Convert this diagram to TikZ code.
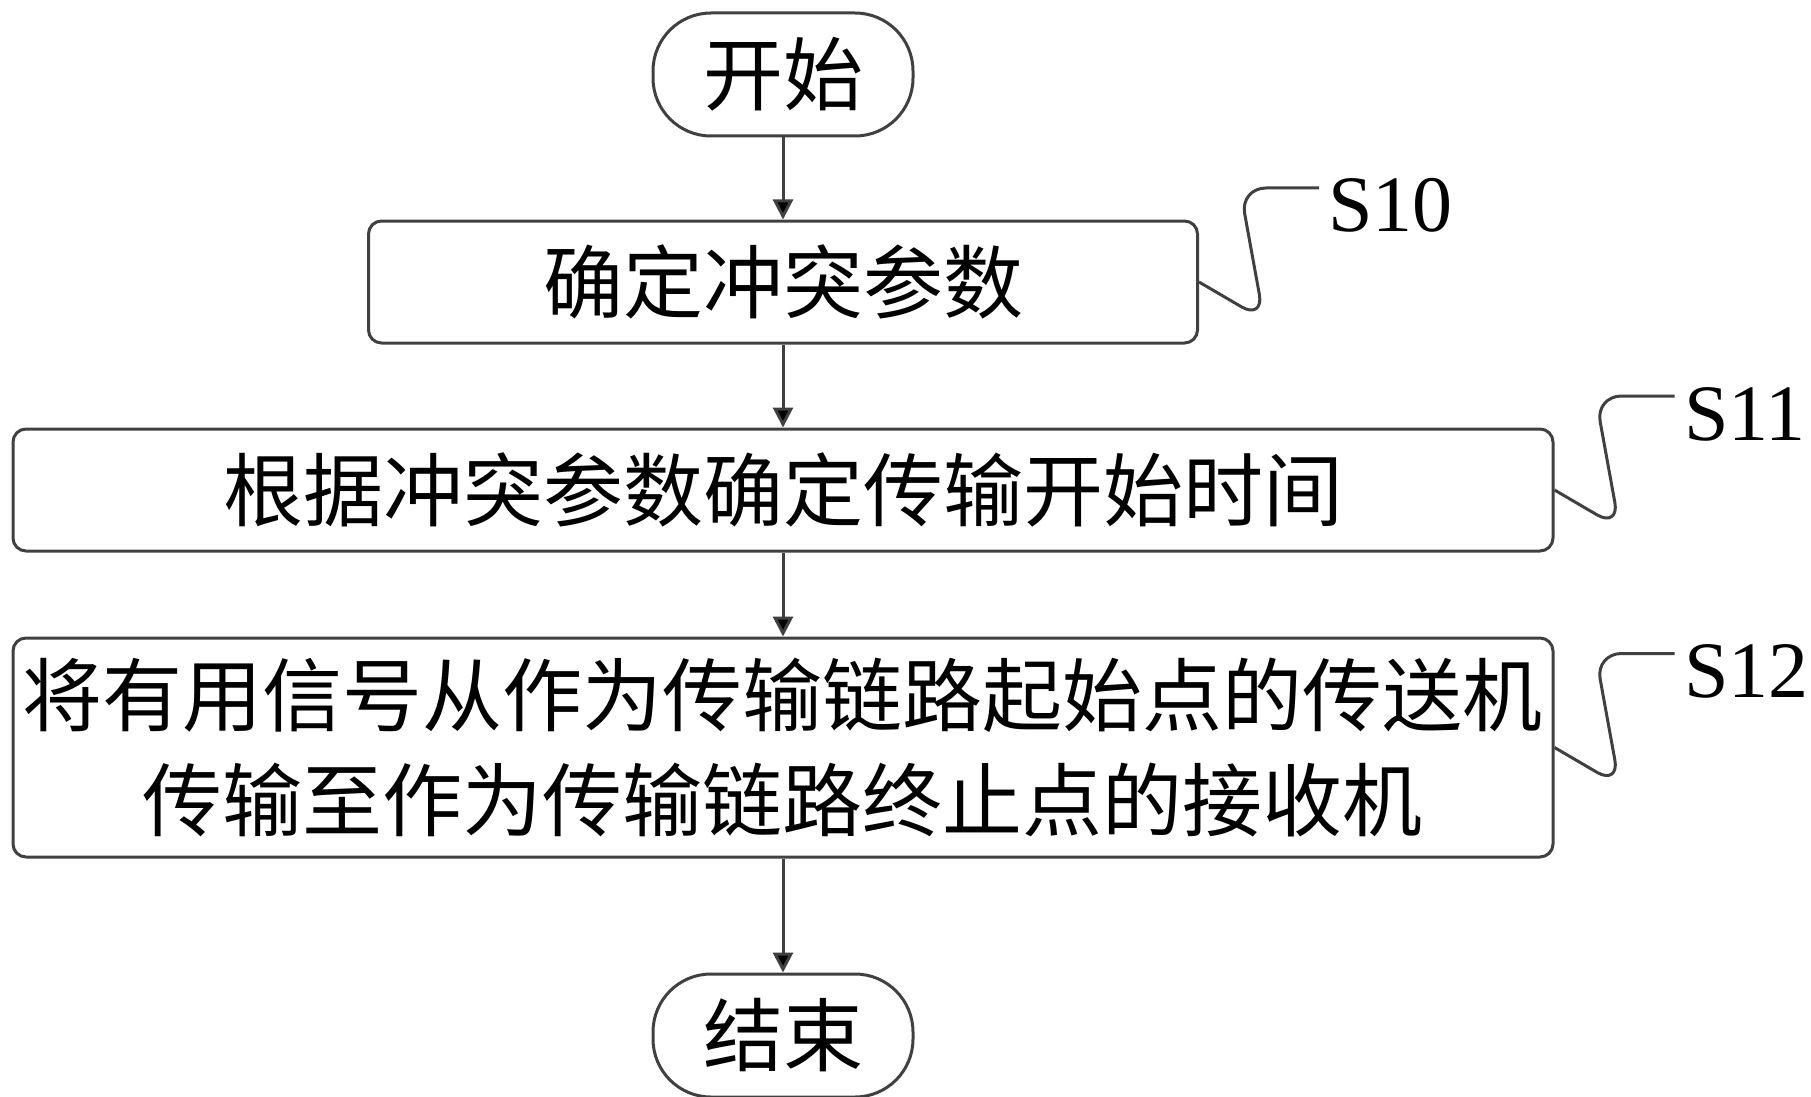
\documentclass[tikz,border=0pt]{standalone}
\usepackage{fontspec}
\newfontfamily\cjk{Noto Sans CJK SC}
\newfontfamily\latinserif{Liberation Serif}
\usepackage{tikz}
\usetikzlibrary{shapes, fit}
\usetikzlibrary{calc, positioning, arrows, arrows.meta}

\definecolor{linegray}{HTML}{404040}

\tikzset{
  terminal/.style={rectangle, draw=linegray, line width=1.5pt, rounded corners=29pt,
    minimum width=130pt, minimum height=61.5pt, inner sep=0pt,
    font=\fontsize{40pt}{52.5pt}\cjk},
  process/.style={rectangle, draw=linegray, line width=1.5pt, rounded corners=6.5pt,
    minimum height=61pt, inner sep=0pt, align=center,
    font=\fontsize{40pt}{52.5pt}\cjk},
  flow/.style={-{Triangle[length=10pt,width=10pt]}, draw=linegray, line width=1.5pt},
  leader/.style={draw=linegray, line width=1.5pt, rounded corners=13pt},
  tag/.style={anchor=base west, inner sep=4pt, yshift=-22pt,
    font=\fontsize{40pt}{48pt}\latinserif}
}

\begin{document}
\begin{tikzpicture}
            \useasboundingbox (0,0) rectangle (905.5pt,-548.5pt);
            \node[terminal] (start) at (391.5pt,-37.25pt) {开始};
            \node[process, minimum width=414.5pt, below=41pt of start] (s10) {确定冲突参数};
            \node[process, minimum width=770pt, below=41.5pt of s10] (s11) {根据冲突参数确定传输开始时间};
            \node[process, minimum width=770pt, minimum height=109.5pt, below=42pt of s11] (s12)
              {将有用信号从作为传输链路起始点的传送机\\传输至作为传输链路终止点的接收机};
            \node[terminal, below=57pt of s12] (stop) {结束};
            \path[flow]
            (start) edge (s10)
            (s10) edge (s11)
            (s11) edge (s12)
            (s12) edge (stop);
            % step numbers
            \draw[leader] (s10.east) -- ++(32.5pt,-19pt) -- ++(-12pt,66pt) -- ++(39.5pt,0) node[tag] {S10};
            \draw[leader] (s11.east) -- ++(32.5pt,-19pt) -- ++(-12pt,66pt) -- ++(39.5pt,0) node[tag] {S11};
            \draw[leader] (s12.east) -- ++(32.5pt,-19pt) -- ++(-12pt,66pt) -- ++(39.5pt,0) node[tag] {S12};
            \end{tikzpicture}
\end{document}
